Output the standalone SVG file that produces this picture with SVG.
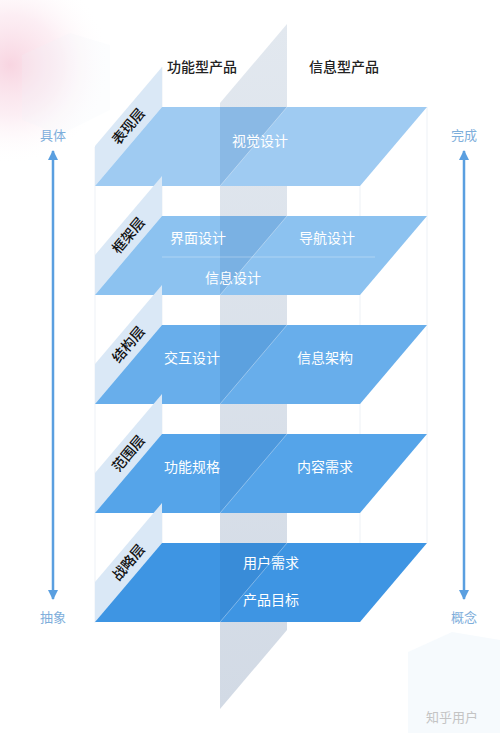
<svg xmlns="http://www.w3.org/2000/svg" width="500" height="733" viewBox="0 0 500 733">
<defs>
<style>
.hdr{font-family:"Noto Sans CJK SC","Noto Sans",sans-serif;font-size:14px;font-weight:500;fill:#222;text-anchor:middle}
.lbl{font-family:"Noto Sans CJK SC","Noto Sans",sans-serif;font-size:14px;fill:#ffffff;text-anchor:middle}
.side{font-family:"Noto Sans CJK SC","Noto Sans",sans-serif;font-size:14px;font-weight:500;fill:#111;text-anchor:middle}
.axt{font-family:"Noto Sans CJK SC","Noto Sans",sans-serif;font-size:13px;fill:#7eaedb;text-anchor:middle}
.face{fill:#dae8f6}
.ov{fill:#1f5fa0;fill-opacity:0.16}
.cut{stroke:#ffffff;stroke-opacity:0.35;stroke-width:1;fill:none}
.wire{stroke:#edf1f6;stroke-width:1;fill:none}
.axis{stroke:#5a9fe0;stroke-width:2.5;fill:none}
</style>
<radialGradient id="pink" cx="10" cy="65" r="100" gradientUnits="userSpaceOnUse">
<stop offset="0" stop-color="#f8d5e1"/>
<stop offset="0.5" stop-color="#fbe7ef" stop-opacity="0.7"/>
<stop offset="1" stop-color="#ffffff" stop-opacity="0"/>
</radialGradient>
<linearGradient id="band" x1="0" y1="24" x2="0" y2="709" gradientUnits="userSpaceOnUse">
<stop offset="0" stop-color="#e2e8ef"/>
<stop offset="1" stop-color="#d2dae5"/>
</linearGradient>
<marker id="ah" viewBox="0 0 10 10" refX="9" refY="5" markerWidth="10" markerHeight="10" markerUnits="userSpaceOnUse" orient="auto-start-reverse">
<path d="M0,0 L10,5 L0,10 Z" fill="#5a9fe0"/>
</marker>
</defs>
<rect width="500" height="733" fill="#ffffff"/>
<rect width="500" height="733" fill="url(#pink)"/>
<polygon points="22,55 70,33 110,45 110,110 60,135 22,120" fill="#eef4fb" opacity="0.18"/>
<polygon points="408,652 452,632 500,640 500,733 408,733" fill="#eef5fc" opacity="0.55"/>

<g id="wireframe">
<line class="wire" x1="95" y1="147" x2="95" y2="623"/>
<line class="wire" x1="162" y1="67" x2="162" y2="543"/>
<line class="wire" x1="360" y1="186" x2="360" y2="622"/>
<line class="wire" x1="427" y1="107" x2="427" y2="543"/>
</g>

<g id="band-plane">
<polygon points="220,103 287,24 287,630 220,709" fill="url(#band)"/>
</g>

<g id="layer-presentation">
<polygon class="face" points="95,146 162,67 162,107 95,186"/>
<polygon points="162,107 427,107 360,186 95,186" fill="#9fcbf2"/>
<polygon class="ov" points="220,107 287,107 220,186"/>
<line class="cut" x1="287" y1="107" x2="220" y2="186"/>
<text class="side" transform="translate(128.5,126.5) rotate(-50)" y="5">表现层</text>
<text class="lbl" x="260" y="146">视觉设计</text>
</g>

<g id="layer-skeleton">
<polygon class="face" points="95,255 162,176 162,216 95,295"/>
<polygon points="162,216 427,216 360,295 95,295" fill="#8cc2f0"/>
<polygon class="ov" points="220,216 287,216 220,295"/>
<line class="cut" x1="287" y1="216" x2="220" y2="295"/>
<line x1="162" y1="257" x2="375" y2="257" stroke="#ffffff" stroke-opacity="0.3" stroke-width="1"/>
<text class="side" transform="translate(128.5,235.5) rotate(-50)" y="5">框架层</text>
<text class="lbl" x="198" y="243">界面设计</text>
<text class="lbl" x="327" y="243">导航设计</text>
<text class="lbl" x="233" y="283">信息设计</text>
</g>

<g id="layer-structure">
<polygon class="face" points="95,364 162,285 162,325 95,404"/>
<polygon points="162,325 427,325 360,404 95,404" fill="#68aeeb"/>
<polygon class="ov" points="220,325 287,325 220,404"/>
<line class="cut" x1="287" y1="325" x2="220" y2="404"/>
<text class="side" transform="translate(128.5,344.5) rotate(-50)" y="5">结构层</text>
<text class="lbl" x="192" y="363">交互设计</text>
<text class="lbl" x="325" y="363">信息架构</text>
</g>

<g id="layer-scope">
<polygon class="face" points="95,473 162,394 162,434 95,513"/>
<polygon points="162,434 427,434 360,513 95,513" fill="#55a4e9"/>
<polygon class="ov" points="220,434 287,434 220,513"/>
<line class="cut" x1="287" y1="434" x2="220" y2="513"/>
<text class="side" transform="translate(128.5,453.5) rotate(-50)" y="5">范围层</text>
<text class="lbl" x="192" y="472">功能规格</text>
<text class="lbl" x="325" y="472">内容需求</text>
</g>

<g id="layer-strategy">
<polygon class="face" points="95,582 162,503 162,543 95,622"/>
<polygon points="162,543 427,543 360,622 95,622" fill="#3e95e3"/>
<polygon class="ov" points="220,543 287,543 220,622"/>
<line class="cut" x1="287" y1="543" x2="220" y2="622"/>
<text class="side" transform="translate(128.5,562.5) rotate(-50)" y="5">战略层</text>
<text class="lbl" x="271" y="568">用户需求</text>
<text class="lbl" x="271" y="605">产品目标</text>
</g>

<g id="headers">
<text class="hdr" x="202" y="72">功能型产品</text>
<text class="hdr" x="344" y="72">信息型产品</text>
</g>

<g id="axis-left-labels">
<text class="axt" x="53" y="140">具体</text>
<text class="axt" x="53" y="622">抽象</text>
</g>
<g id="axis-right-labels">
<text class="axt" x="464" y="140">完成</text>
<text class="axt" x="464" y="622">概念</text>
</g>

<g id="connectors">
<line class="axis" x1="53" y1="151" x2="53" y2="599" marker-start="url(#ah)" marker-end="url(#ah)"/>
<line class="axis" x1="464" y1="151" x2="464" y2="599" marker-start="url(#ah)" marker-end="url(#ah)"/>
</g>

<text x="452" y="722" font-family="Noto Sans CJK SC,sans-serif" font-size="13" fill="#c4c4c4" text-anchor="middle">知乎用户</text>
</svg>
